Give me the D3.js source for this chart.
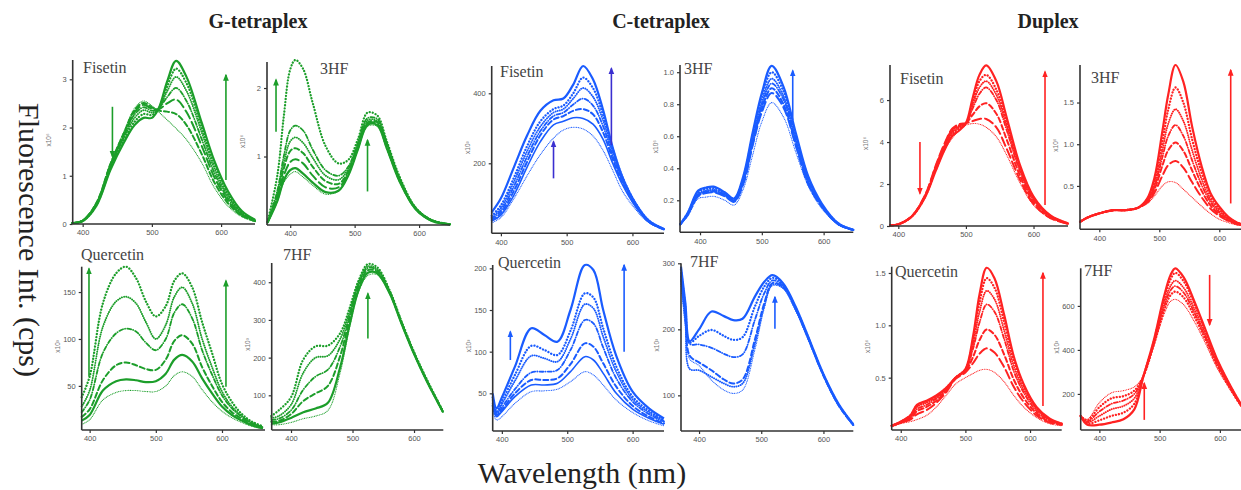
<!DOCTYPE html>
<html>
<head>
<meta charset="utf-8">
<script src="https://cdn.jsdelivr.net/npm/d3@7"></script>
<style>
body { margin: 0; background: #fff; overflow: hidden; }
svg { display: block; }
</style>
</head>
<body>
<svg id="chart" width="1241" height="490"></svg>
<script>
// ---- values: wavelength (nm) and intensity in each panel's own units ----
var xTickValues = [400, 500, 600];

// G-tetraplex
var gFisWl = [385, 400, 420, 440, 460, 475, 488, 500, 510, 522, 535, 550, 572, 590, 610, 630, 649];
var gFisCurves = [
  [0.02, 0.06, 0.38, 1.12, 1.70, 2.05, 2.20, 2.20, 2.40, 2.95, 3.38, 3.05, 2.10, 1.32, 0.68, 0.27, 0.09],
  [0.02, 0.06, 0.40, 1.15, 1.75, 2.12, 2.28, 2.26, 2.40, 2.85, 3.22, 2.92, 2.00, 1.24, 0.62, 0.24, 0.08],
  [0.02, 0.07, 0.41, 1.18, 1.80, 2.20, 2.36, 2.31, 2.40, 2.75, 3.05, 2.76, 1.90, 1.16, 0.58, 0.22, 0.07],
  [0.02, 0.07, 0.42, 1.20, 1.84, 2.27, 2.42, 2.35, 2.40, 2.63, 2.82, 2.55, 1.76, 1.07, 0.53, 0.20, 0.07],
  [0.02, 0.07, 0.43, 1.22, 1.87, 2.32, 2.47, 2.39, 2.38, 2.50, 2.58, 2.32, 1.62, 0.98, 0.48, 0.19, 0.06],
  [0.02, 0.07, 0.44, 1.24, 1.90, 2.36, 2.51, 2.42, 2.35, 2.33, 2.28, 2.05, 1.45, 0.87, 0.43, 0.17, 0.06],
  [0.02, 0.08, 0.45, 1.26, 1.93, 2.40, 2.55, 2.45, 2.32, 2.16, 1.98, 1.75, 1.27, 0.76, 0.37, 0.15, 0.05]
];
var gFisArrows = [[443, 2.43, 1.40], [607, 0.91, 3.09]];
var gFisYTicks = [0, 1, 2, 3];

var g3hfWl = [365, 380, 390, 400, 408, 420, 435, 455, 475, 490, 505, 520, 535, 550, 570, 595, 620, 648];
var g3hfCurves = [
  [0.05, 0.72, 1.58, 2.27, 2.41, 2.28, 1.78, 1.15, 0.90, 0.95, 1.25, 1.64, 1.60, 1.22, 0.70, 0.25, 0.07, 0.01],
  [0.04, 0.50, 1.00, 1.38, 1.45, 1.38, 1.10, 0.80, 0.72, 0.85, 1.20, 1.56, 1.55, 1.20, 0.68, 0.25, 0.07, 0.01],
  [0.04, 0.45, 0.90, 1.22, 1.28, 1.20, 0.98, 0.72, 0.66, 0.82, 1.18, 1.53, 1.52, 1.18, 0.67, 0.24, 0.07, 0.01],
  [0.04, 0.42, 0.82, 1.08, 1.12, 1.05, 0.85, 0.64, 0.60, 0.78, 1.15, 1.50, 1.50, 1.16, 0.66, 0.24, 0.07, 0.01],
  [0.04, 0.38, 0.72, 0.92, 0.96, 0.90, 0.72, 0.55, 0.55, 0.75, 1.12, 1.48, 1.48, 1.14, 0.65, 0.23, 0.06, 0.01],
  [0.04, 0.35, 0.65, 0.80, 0.83, 0.75, 0.62, 0.48, 0.50, 0.72, 1.10, 1.46, 1.46, 1.12, 0.63, 0.23, 0.06, 0.01],
  [0.04, 0.34, 0.62, 0.74, 0.78, 0.70, 0.58, 0.45, 0.50, 0.72, 1.10, 1.44, 1.44, 1.10, 0.62, 0.22, 0.06, 0.01]
];
var g3hfArrows = [[378, 1.36, 2.12], [520, 0.49, 1.24]];
var g3hfYTicks = [1, 2];

var gQueWl = [388, 400, 420, 440, 455, 470, 485, 500, 515, 528, 540, 555, 570, 585, 600, 615, 630, 645, 662];
var gQueCurves = [
  [38, 60, 138, 170, 177, 165, 140, 124, 135, 162, 170, 155, 118, 85, 52, 33, 20, 12, 7],
  [28, 45, 113, 140, 145, 138, 118, 100, 115, 145, 155, 138, 100, 70, 44, 28, 18, 11, 6],
  [22, 35, 85, 106, 111, 108, 96, 88, 100, 128, 137, 122, 88, 62, 40, 26, 17, 10, 6],
  [17, 25, 56, 72, 75, 72, 68, 67, 78, 98, 104, 95, 70, 50, 33, 22, 15, 9, 5],
  [13, 19, 45, 55, 57, 56, 54, 55, 63, 78, 83, 76, 58, 42, 28, 19, 13, 8, 5],
  [9, 14, 35, 43, 45, 45, 44, 44, 50, 61, 65, 60, 46, 33, 23, 16, 11, 7, 4]
];
var gQueArrows = [[399, 60, 175], [606, 49, 162]];
var gQueYTicks = [50, 100, 150];

var g7hfWl = [368, 380, 400, 420, 440, 460, 480, 495, 510, 525, 540, 560, 580, 600, 620, 647];
var g7hfCurves = [
  [45, 60, 95, 195, 230, 232, 265, 330, 405, 448, 440, 380, 295, 215, 145, 58],
  [40, 45, 75, 160, 200, 205, 250, 320, 400, 442, 435, 378, 293, 213, 143, 57],
  [35, 38, 60, 115, 150, 168, 230, 310, 395, 438, 432, 376, 292, 212, 142, 57],
  [30, 32, 50, 85, 105, 125, 205, 300, 388, 432, 428, 374, 290, 211, 141, 56],
  [25, 28, 40, 55, 65, 80, 175, 285, 380, 425, 424, 372, 289, 210, 140, 56],
  [22, 22, 28, 38, 45, 60, 160, 278, 375, 418, 420, 370, 288, 209, 140, 55]
];
var g7hfArrows = [[525, 251, 370]];
var g7hfYTicks = [100, 200, 300, 400];

// C-tetraplex
var cFisWl = [386, 400, 420, 440, 460, 480, 495, 510, 525, 540, 555, 570, 585, 605, 625, 648];
var cFisCurves = [
  [60, 100, 190, 280, 350, 380, 385, 425, 478, 440, 355, 245, 160, 85, 36, 12],
  [50, 80, 160, 250, 320, 355, 365, 400, 445, 415, 340, 240, 160, 85, 36, 12],
  [45, 72, 148, 235, 305, 345, 355, 385, 415, 390, 325, 232, 155, 82, 35, 12],
  [42, 65, 135, 220, 292, 335, 345, 368, 385, 365, 308, 222, 150, 80, 34, 12],
  [38, 58, 122, 205, 280, 325, 335, 350, 355, 340, 290, 212, 144, 78, 33, 11],
  [35, 52, 110, 190, 262, 310, 320, 330, 328, 312, 270, 200, 138, 75, 32, 11],
  [30, 45, 100, 165, 225, 272, 295, 303, 298, 278, 238, 180, 120, 68, 30, 10]
];
var cFisArrows = [[480, 157, 262], [568, 252, 471]];
var cFisYTicks = [200, 400];

var c3hfWl = [368, 380, 397, 410, 422, 440, 455, 470, 485, 500, 516, 535, 555, 575, 597, 624, 648];
var c3hfCurves = [
  [0.05, 0.12, 0.26, 0.28, 0.285, 0.25, 0.21, 0.35, 0.62, 0.87, 1.04, 0.91, 0.62, 0.35, 0.18, 0.055, 0.015],
  [0.05, 0.12, 0.25, 0.27, 0.275, 0.245, 0.21, 0.34, 0.60, 0.84, 1.00, 0.88, 0.60, 0.34, 0.17, 0.055, 0.015],
  [0.05, 0.11, 0.24, 0.26, 0.265, 0.24, 0.20, 0.33, 0.58, 0.81, 0.96, 0.85, 0.58, 0.33, 0.17, 0.05, 0.015],
  [0.05, 0.11, 0.235, 0.255, 0.26, 0.235, 0.20, 0.32, 0.57, 0.79, 0.93, 0.83, 0.57, 0.32, 0.165, 0.05, 0.015],
  [0.05, 0.11, 0.23, 0.25, 0.255, 0.23, 0.195, 0.31, 0.55, 0.77, 0.90, 0.80, 0.55, 0.31, 0.16, 0.05, 0.015],
  [0.05, 0.11, 0.225, 0.245, 0.25, 0.225, 0.19, 0.30, 0.54, 0.75, 0.87, 0.78, 0.54, 0.30, 0.16, 0.05, 0.015],
  [0.05, 0.10, 0.21, 0.22, 0.225, 0.20, 0.17, 0.27, 0.48, 0.69, 0.81, 0.72, 0.50, 0.29, 0.15, 0.048, 0.014]
];
var c3hfArrows = [[550, 0.70, 1.01]];
var c3hfYTicks = [0.2, 0.4, 0.6, 0.8, 1.0];

var cQueWl = [386, 392, 400, 420, 445, 465, 485, 505, 527, 540, 555, 575, 600, 625, 648];
var cQueCurves = [
  [50, 32, 45, 82, 128, 120, 112, 150, 204, 198, 150, 95, 52, 32, 20],
  [45, 28, 40, 72, 107, 102, 96, 125, 170, 165, 128, 82, 46, 29, 18],
  [42, 27, 37, 65, 95, 92, 88, 115, 157, 152, 118, 76, 43, 27, 17],
  [38, 25, 33, 55, 75, 76, 78, 102, 138, 134, 105, 68, 40, 25, 16],
  [35, 24, 30, 50, 66, 66, 68, 85, 110, 106, 86, 58, 35, 22, 14],
  [32, 22, 28, 46, 60, 60, 62, 76, 94, 90, 74, 50, 31, 20, 13],
  [28, 18, 22, 38, 52, 53, 55, 64, 76, 72, 60, 42, 27, 17, 11]
];
var cQueArrows = [[413, 90, 124], [587, 100, 204]];
var cQueYTicks = [50, 100, 150, 200];

var c7hfWl = [371, 378, 385, 400, 420, 440, 455, 470, 490, 505, 518, 535, 555, 575, 600, 625, 648];
var c7hfCurves = [
  [295, 240, 182, 200, 227, 220, 214, 216, 250, 272, 282, 270, 235, 190, 132, 86, 56],
  [290, 235, 180, 190, 199, 190, 184, 188, 235, 265, 278, 268, 233, 189, 131, 85, 56],
  [285, 230, 178, 177, 172, 163, 158, 162, 215, 255, 274, 266, 232, 188, 131, 85, 55],
  [280, 220, 160, 150, 138, 124, 118, 124, 185, 240, 270, 264, 231, 187, 130, 84, 55],
  [275, 210, 140, 138, 128, 118, 113, 118, 178, 236, 268, 263, 230, 187, 130, 84, 55],
  [270, 205, 155, 145, 123, 108, 103, 108, 170, 232, 266, 262, 230, 186, 129, 84, 55]
];
var c7hfArrows = [[522, 201, 249]];
var c7hfYTicks = [100, 200, 300];

// Duplex
var dFisWl = [388, 400, 420, 440, 455, 468, 480, 490, 500, 510, 520, 530, 545, 560, 580, 600, 625, 651];
var dFisCurves = [
  [0.03, 0.08, 0.45, 1.40, 2.60, 3.60, 4.30, 4.55, 4.90, 6.10, 7.20, 7.65, 6.90, 5.20, 2.90, 1.40, 0.50, 0.13],
  [0.03, 0.08, 0.45, 1.42, 2.65, 3.65, 4.38, 4.65, 4.90, 5.90, 6.90, 7.20, 6.50, 4.95, 2.80, 1.35, 0.48, 0.12],
  [0.03, 0.08, 0.46, 1.44, 2.70, 3.70, 4.45, 4.70, 4.90, 5.75, 6.60, 6.90, 6.25, 4.80, 2.70, 1.30, 0.47, 0.12],
  [0.03, 0.08, 0.46, 1.46, 2.75, 3.78, 4.52, 4.75, 4.90, 5.60, 6.30, 6.60, 6.00, 4.60, 2.60, 1.25, 0.45, 0.12],
  [0.03, 0.08, 0.47, 1.48, 2.80, 3.85, 4.60, 4.80, 4.90, 5.30, 5.70, 5.85, 5.35, 4.15, 2.40, 1.15, 0.42, 0.11],
  [0.03, 0.08, 0.47, 1.50, 2.85, 3.90, 4.65, 4.85, 4.90, 5.00, 5.10, 5.10, 4.70, 3.70, 2.20, 1.05, 0.38, 0.10],
  [0.03, 0.08, 0.45, 1.45, 2.70, 3.60, 4.20, 4.55, 4.80, 4.88, 4.85, 4.70, 4.25, 3.40, 2.05, 1.00, 0.36, 0.10]
];
var dFisArrows = [[432, 4.0, 1.55], [617, 1.0, 7.35]];
var dFisYTicks = [0, 2, 4, 6];

var d3hfWl = [368, 380, 395, 410, 425, 445, 465, 480, 492, 505, 515, 527, 540, 555, 570, 585, 600, 615, 630, 650];
var d3hfCurves = [
  [0.07, 0.12, 0.16, 0.19, 0.21, 0.21, 0.24, 0.35, 0.60, 1.15, 1.60, 1.95, 1.75, 1.20, 0.75, 0.42, 0.25, 0.13, 0.06, 0.02],
  [0.07, 0.12, 0.16, 0.19, 0.21, 0.21, 0.24, 0.34, 0.56, 1.02, 1.42, 1.68, 1.50, 1.05, 0.67, 0.38, 0.22, 0.12, 0.06, 0.02],
  [0.07, 0.12, 0.16, 0.19, 0.21, 0.21, 0.24, 0.33, 0.52, 0.92, 1.25, 1.42, 1.28, 0.92, 0.59, 0.34, 0.20, 0.11, 0.05, 0.02],
  [0.07, 0.12, 0.16, 0.19, 0.21, 0.21, 0.24, 0.32, 0.49, 0.84, 1.10, 1.23, 1.10, 0.80, 0.52, 0.31, 0.18, 0.10, 0.05, 0.02],
  [0.07, 0.12, 0.16, 0.19, 0.21, 0.21, 0.24, 0.31, 0.46, 0.74, 0.93, 1.02, 0.92, 0.68, 0.45, 0.27, 0.16, 0.09, 0.04, 0.02],
  [0.07, 0.12, 0.16, 0.19, 0.21, 0.21, 0.24, 0.30, 0.42, 0.62, 0.75, 0.80, 0.72, 0.54, 0.37, 0.23, 0.14, 0.08, 0.04, 0.02],
  [0.07, 0.12, 0.16, 0.19, 0.21, 0.21, 0.24, 0.29, 0.38, 0.50, 0.55, 0.54, 0.46, 0.36, 0.26, 0.17, 0.10, 0.06, 0.03, 0.01]
];
var d3hfArrows = [[619, 0.29, 1.89]];
var d3hfYTicks = [0.5, 1.0, 1.5];

var dQueWl = [386, 400, 415, 425, 440, 455, 470, 485, 500, 512, 522, 533, 545, 560, 575, 590, 610, 630, 649];
var dQueCurves = [
  [0.04, 0.08, 0.14, 0.24, 0.28, 0.33, 0.40, 0.50, 0.58, 0.90, 1.30, 1.55, 1.45, 1.10, 0.70, 0.44, 0.22, 0.11, 0.06],
  [0.04, 0.08, 0.14, 0.23, 0.27, 0.32, 0.40, 0.50, 0.58, 0.86, 1.22, 1.45, 1.36, 1.03, 0.66, 0.42, 0.21, 0.10, 0.06],
  [0.04, 0.08, 0.13, 0.22, 0.26, 0.31, 0.39, 0.50, 0.58, 0.82, 1.13, 1.33, 1.25, 0.95, 0.61, 0.39, 0.20, 0.10, 0.06],
  [0.04, 0.07, 0.12, 0.20, 0.24, 0.30, 0.38, 0.50, 0.57, 0.78, 1.03, 1.20, 1.13, 0.87, 0.56, 0.36, 0.18, 0.09, 0.05],
  [0.04, 0.07, 0.11, 0.18, 0.22, 0.28, 0.37, 0.50, 0.56, 0.70, 0.86, 0.96, 0.91, 0.72, 0.48, 0.31, 0.16, 0.08, 0.05],
  [0.04, 0.07, 0.10, 0.15, 0.19, 0.26, 0.36, 0.49, 0.55, 0.64, 0.73, 0.78, 0.74, 0.60, 0.41, 0.27, 0.14, 0.07, 0.05],
  [0.03, 0.06, 0.08, 0.10, 0.14, 0.22, 0.33, 0.44, 0.50, 0.54, 0.57, 0.58, 0.55, 0.46, 0.33, 0.22, 0.12, 0.06, 0.04]
];
var dQueArrows = [[620, 0.23, 1.50]];
var dQueYTicks = [0.5, 1.0, 1.5];

var d7hfWl = [369, 380, 400, 420, 440, 458, 473, 490, 507, 518, 526, 540, 557, 575, 595, 615, 636, 650];
var d7hfCurves = [
  [100, 60, 60, 70, 85, 130, 279, 440, 640, 740, 771, 730, 625, 500, 360, 250, 150, 100],
  [100, 65, 80, 100, 115, 155, 279, 435, 625, 720, 750, 712, 612, 490, 355, 247, 148, 98],
  [100, 70, 100, 130, 145, 180, 279, 430, 605, 690, 715, 682, 590, 475, 345, 242, 146, 97],
  [100, 75, 120, 155, 170, 200, 280, 425, 590, 670, 690, 660, 573, 463, 338, 238, 145, 96],
  [100, 80, 140, 180, 190, 215, 280, 420, 575, 648, 665, 638, 556, 452, 330, 234, 143, 95],
  [100, 85, 160, 205, 215, 232, 281, 415, 560, 620, 630, 605, 532, 436, 320, 228, 140, 93]
];
var d7hfArrows = [[583, 741, 514], [474.5, 82, 249]];
var d7hfYTicks = [200, 400, 600];

// ---- look ----
var green = "#1c9e2a", blue = "#1a5cff", red = "#ff2222", violet = "#3a2fd0";

var lineStyles = {
  solid:  { w: 2.2, dash: null },
  solidT: { w: 1.6, dash: null },
  dot:    { w: 2.3, dash: "0.1,3" },
  dense:  { w: 1.9, dash: "0.1,2.1" },
  dashdot:{ w: 1.8, dash: "4,2,0.1,2.2" },
  dash:   { w: 2.0, dash: "5,3" },
  longdash:{ w: 2.0, dash: "9,4" },
  thin:   { w: 1.1, dash: "0.1,1.6" }
};

var svg = d3.select("#chart");

// group titles and the shared axis names
var groupTitles = ["G-tetraplex", "C-tetraplex", "Duplex"];
var groupTitleX = [258, 661, 1048];
svg.selectAll(".gtitle").data(groupTitles).join("text")
  .attr("class", "gtitle")
  .attr("x", function(d, i) { return groupTitleX[i]; })
  .attr("y", 28)
  .attr("text-anchor", "middle")
  .style("font-family", "'Liberation Serif', 'DejaVu Serif', serif")
  .style("font-weight", "bold")
  .style("font-size", "20px")
  .style("fill", "#222")
  .text(function(d) { return d; });

svg.append("text")
  .attr("transform", "translate(19,240) rotate(90)")
  .attr("text-anchor", "middle")
  .style("font-family", "'Liberation Serif', serif")
  .style("font-size", "30px")
  .style("fill", "#222")
  .text("Fluorescence Int. (cps)");

svg.append("text")
  .attr("x", 582).attr("y", 483)
  .attr("text-anchor", "middle")
  .style("font-family", "'Liberation Serif', serif")
  .style("font-size", "30px")
  .style("fill", "#222")
  .text("Wavelength (nm)");

// panel boxes in pixels: [left, right, top, bottom]
var panels = [
  { name: "Fisetin",   wl: gFisWl, curves: gFisCurves, arrows: gFisArrows, yTicks: gFisYTicks, box: [72.7, 255, 60, 224],    xDom: [385.6, 649], yDom: [0, 3.4],     unit: "x10\u2076", color: green, arrowColor: green, fmt: "d",   label: [83, 73],    styles: ["solid","dot","dense","dashdot","longdash","dash","thin"] },
  { name: "3HF",       wl: g3hfWl, curves: g3hfCurves, arrows: g3hfArrows, yTicks: g3hfYTicks, box: [267, 450, 62, 225],     xDom: [364, 648],   yDom: [0, 2.38],    unit: "x10\u2076", color: green, arrowColor: green, fmt: "d",   label: [320, 74],   styles: ["dot","dashdot","dense","dash","longdash","solid","thin"] },
  { name: "Quercetin", wl: gQueWl, curves: gQueCurves, arrows: gQueArrows, yTicks: gQueYTicks, box: [81.7, 265, 266.7, 430],  xDom: [388, 665],   yDom: [3, 177],     unit: "x10\u00b3", color: green, arrowColor: green, fmt: "d",   label: [81, 260],   styles: ["dot","dense","dashdot","dash","solid","thin"] },
  { name: "7HF",       wl: g7hfWl, curves: g7hfCurves, arrows: g7hfArrows, yTicks: g7hfYTicks, box: [271.7, 443.3, 263, 430], xDom: [368.6, 647.6], yDom: [8, 451], unit: "x10\u00b3", color: green, arrowColor: green, fmt: "d",   label: [283, 260],  styles: ["dot","dense","dashdot","dash","solid","thin"] },
  { name: "Fisetin",   wl: cFisWl, curves: cFisCurves, arrows: cFisArrows, yTicks: cFisYTicks, box: [491.7, 664, 66, 233.3],  xDom: [386, 648],   yDom: [0, 478],     unit: "x10\u00b3", color: blue,  arrowColor: violet, fmt: "d",  label: [500, 77],   styles: ["solid","dot","dense","dashdot","dash","solidT","thin"] },
  { name: "3HF",       wl: c3hfWl, curves: c3hfCurves, arrows: c3hfArrows, yTicks: c3hfYTicks, box: [680, 853.3, 65, 232.3],  xDom: [367.6, 648], yDom: [0, 1.045],   unit: "x10\u2076", color: blue,  arrowColor: blue, fmt: ".1f",  label: [684, 74],   styles: ["solid","dot","dense","dashdot","dash","longdash","thin"] },
  { name: "Quercetin", wl: cQueWl, curves: cQueCurves, arrows: cQueArrows, yTicks: cQueYTicks, box: [492.7, 664, 265, 431],   xDom: [386, 648],   yDom: [4.8, 204],   unit: "x10\u00b3", color: blue,  arrowColor: blue, fmt: "d",    label: [498, 268],  styles: ["solid","dot","dense","dashdot","dash","solidT","thin"] },
  { name: "7HF",       wl: c7hfWl, curves: c7hfCurves, arrows: c7hfArrows, yTicks: c7hfYTicks, box: [681, 853.3, 263.3, 431], xDom: [371, 648],   yDom: [46, 300],    unit: "x10\u00b3", color: blue,  arrowColor: blue, fmt: "d",    label: [690, 267],  styles: ["solid","dot","dashdot","dash","dense","thin"] },
  { name: "Fisetin",   wl: dFisWl, curves: dFisCurves, arrows: dFisArrows, yTicks: dFisYTicks, box: [890, 1068, 65, 226],     xDom: [387.7, 651], yDom: [0, 7.67],    unit: "x10\u2076", color: red,   arrowColor: red, fmt: "d",     label: [900, 84],   styles: ["solid","dot","dense","dashdot","dash","longdash","thin"] },
  { name: "3HF",       wl: d3hfWl, curves: d3hfCurves, arrows: d3hfArrows, yTicks: d3hfYTicks, box: [1080, 1249.3, 65, 229.3], xDom: [367.8, 650], yDom: [-0.02, 1.95], unit: "x10\u2076", color: red, arrowColor: red, fmt: ".1f",   label: [1091, 83],  styles: ["solid","dot","dense","dashdot","dash","longdash","thin"] },
  { name: "Quercetin", wl: dQueWl, curves: dQueCurves, arrows: dQueArrows, yTicks: dQueYTicks, box: [891.7, 1061.7, 266.7, 430], xDom: [386, 649], yDom: [0, 1.56],    unit: "x10\u2076", color: red,   arrowColor: red, fmt: ".1f",   label: [895, 277],  styles: ["solid","dot","dense","dashdot","dash","longdash","thin"] },
  { name: "7HF",       wl: d7hfWl, curves: d7hfCurves, arrows: d7hfArrows, yTicks: d7hfYTicks, box: [1080.7, 1250, 268.3, 430], xDom: [369, 650], yDom: [36, 771],    unit: "x10\u00b3", color: red,   arrowColor: red, fmt: "d",     label: [1084, 276], styles: ["solid","dot","dense","dashdot","dot","thin"] }
];

// one arrowhead marker per arrow colour
var arrowColors = [green, blue, red, violet];
var defs = svg.append("defs");
arrowColors.forEach(function(c, i) {
  defs.append("marker")
    .attr("id", "head" + i)
    .attr("viewBox", "0 0 10 10")
    .attr("refX", 8).attr("refY", 5)
    .attr("markerWidth", 4.5).attr("markerHeight", 4.5)
    .attr("orient", "auto")
    .append("path").attr("d", "M0,1 L10,5 L0,9 Z").attr("fill", c);
});
var headId = function(c) { return "url(#head" + arrowColors.indexOf(c) + ")"; };

panels.forEach(function(p) {
  var x = d3.scaleLinear().domain(p.xDom).range([p.box[0], p.box[1]]);
  var y = d3.scaleLinear().domain(p.yDom).range([p.box[3], p.box[2]]);
  var g = svg.append("g");

  // curves
  var line = d3.line()
    .x(function(d) { return x(d[0]); })
    .y(function(d) { return y(d[1]); })
    .curve(d3.curveCatmullRom.alpha(0.5));

  p.curves.forEach(function(c, i) {
    var st = lineStyles[p.styles[i]];
    g.append("path")
      .datum(p.wl.map(function(w, k) { return [w, c[k]]; }))
      .attr("d", line)
      .attr("fill", "none")
      .attr("stroke", p.color)
      .attr("stroke-width", st.w)
      .attr("stroke-linecap", st.dash ? "round" : "butt")
      .attr("stroke-linejoin", "round")
      .attr("stroke-dasharray", st.dash);
  });

  // axes
  var xAxis = g.append("g")
    .attr("transform", "translate(0," + p.box[3] + ")")
    .call(d3.axisBottom(x).tickValues(xTickValues).tickSize(3).tickSizeOuter(0).tickFormat(d3.format("d")));
  var yAxis = g.append("g")
    .attr("transform", "translate(" + p.box[0] + ",0)")
    .call(d3.axisLeft(y).tickValues(p.yTicks).tickSize(3).tickSizeOuter(0).tickFormat(d3.format(p.fmt)));
  [xAxis, yAxis].forEach(function(a) {
    a.select(".domain").attr("stroke", "#333").attr("stroke-width", 1.6);
    a.selectAll(".tick line").attr("stroke", "#333").attr("stroke-width", 1.2);
    a.selectAll(".tick text")
      .style("font-family", "'Liberation Sans', Arial, sans-serif")
      .style("font-size", "7.5px")
      .attr("fill", "#555");
  });
  // y axis line runs the whole height of the panel
  yAxis.select(".domain").attr("d", "M0," + p.box[3] + "V" + p.box[2]);
  xAxis.select(".domain").attr("d", "M" + p.box[0] + ",0H" + p.box[1]);

  // tiny multiplier label
  g.append("text")
    .attr("transform", "translate(" + (p.box[0] - 22) + "," + ((p.box[2] + p.box[3]) / 2 - 2) + ") rotate(-90)")
    .attr("text-anchor", "middle")
    .style("font-family", "'Liberation Sans', Arial, sans-serif")
    .style("font-size", "6.5px")
    .attr("fill", "#777")
    .text(p.unit);

  // compound name
  g.append("text")
    .attr("x", p.label[0]).attr("y", p.label[1])
    .style("font-family", "'Liberation Serif', 'DejaVu Serif', serif")
    .style("font-size", "16px")
    .attr("fill", "#444")
    .text(p.name);

  // trend arrows
  p.arrows.forEach(function(a) {
    g.append("line")
      .attr("x1", x(a[0])).attr("x2", x(a[0]))
      .attr("y1", y(a[1])).attr("y2", y(a[2]))
      .attr("stroke", p.arrowColor)
      .attr("stroke-width", 1.6)
      .attr("marker-end", headId(p.arrowColor));
  });
});
</script>
</body>
</html>
